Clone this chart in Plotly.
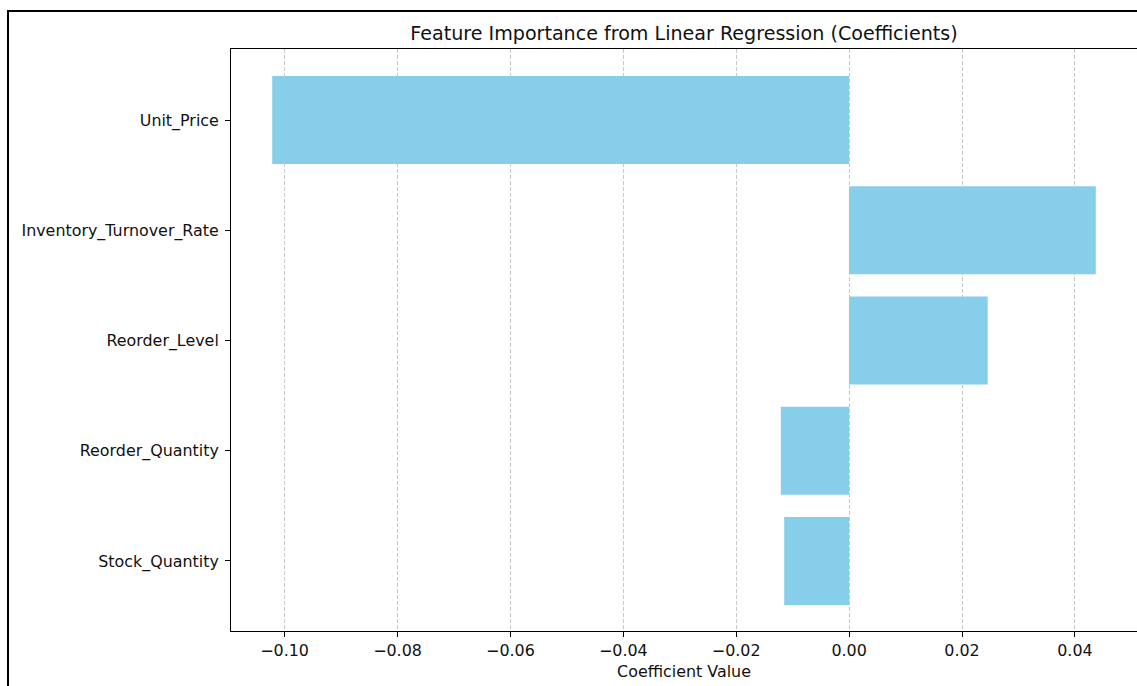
import plotly.graph_objects as go

features = ["Unit_Price", "Inventory_Turnover_Rate", "Reorder_Level", "Reorder_Quantity", "Stock_Quantity"]
coefficients = [-0.1022, 0.0437, 0.02455, -0.0121, -0.0115]
x_ticks = [-0.10, -0.08, -0.06, -0.04, -0.02, 0.00, 0.02, 0.04]

W, H = 1137, 686
L, R, T, B = 231, 0, 49, 55
pw, ph = W - L - R, H - T - B

font = "DejaVu Sans"
tick_size = 15.9
title_size = 19.1

fig = go.Figure(go.Bar(
    x=coefficients, y=list(range(len(features))), orientation="h",
    width=0.8, marker=dict(color="#87CEEB", line=dict(width=0)),
))

fig.update_layout(
    width=W, height=H,
    margin=dict(l=L, r=R, t=T, b=B, autoexpand=False),
    paper_bgcolor="white", plot_bgcolor="white",
    font=dict(family=font, size=tick_size, color="#111111"),
    showlegend=False,
    title=dict(text="Feature Importance from Linear Regression (Coefficients)",
               x=(L + pw / 2) / W, xanchor="center", xref="container",
               y=1 - 33 / H, yanchor="middle", yref="container",
               font=dict(size=title_size, family=font, color="#111111")),
    xaxis=dict(range=[-0.1095, 0.0510], tickvals=x_ticks,
               ticktext=[("−" if v < 0 else "") + f"{abs(v):.2f}" for v in x_ticks],
               showgrid=True, gridcolor="#c8c8c8", gridwidth=1, griddash="4px,2px",
               zeroline=False, showline=True, linecolor="black", linewidth=1, mirror=True,
               ticks="outside", ticklen=5, tickcolor="black", tickwidth=1,
               layer="above traces",
               title=dict(text="Coefficient Value", standoff=6, font=dict(size=tick_size, family=font))),
    yaxis=dict(range=[4.635, -0.644], tickvals=list(range(len(features))), ticktext=features,
               showgrid=False, zeroline=False, showline=True, linecolor="black", linewidth=1, mirror=True,
               ticks="outside", ticklen=5, tickcolor="black", tickwidth=1, ticklabelstandoff=3),
)

# outer figure border (partially cropped in reference)
fig.add_shape(type="rect", xref="paper", yref="paper",
              x0=(8 - L) / pw, x1=1.05, y0=-0.3, y1=(H - B - 11) / ph,
              line=dict(color="black", width=2), fillcolor="rgba(0,0,0,0)", layer="above")

fig.write_html("out.html", config={"displayModeBar": False},
               post_script="document.body.style.margin='0';document.body.style.overflow='hidden';")
